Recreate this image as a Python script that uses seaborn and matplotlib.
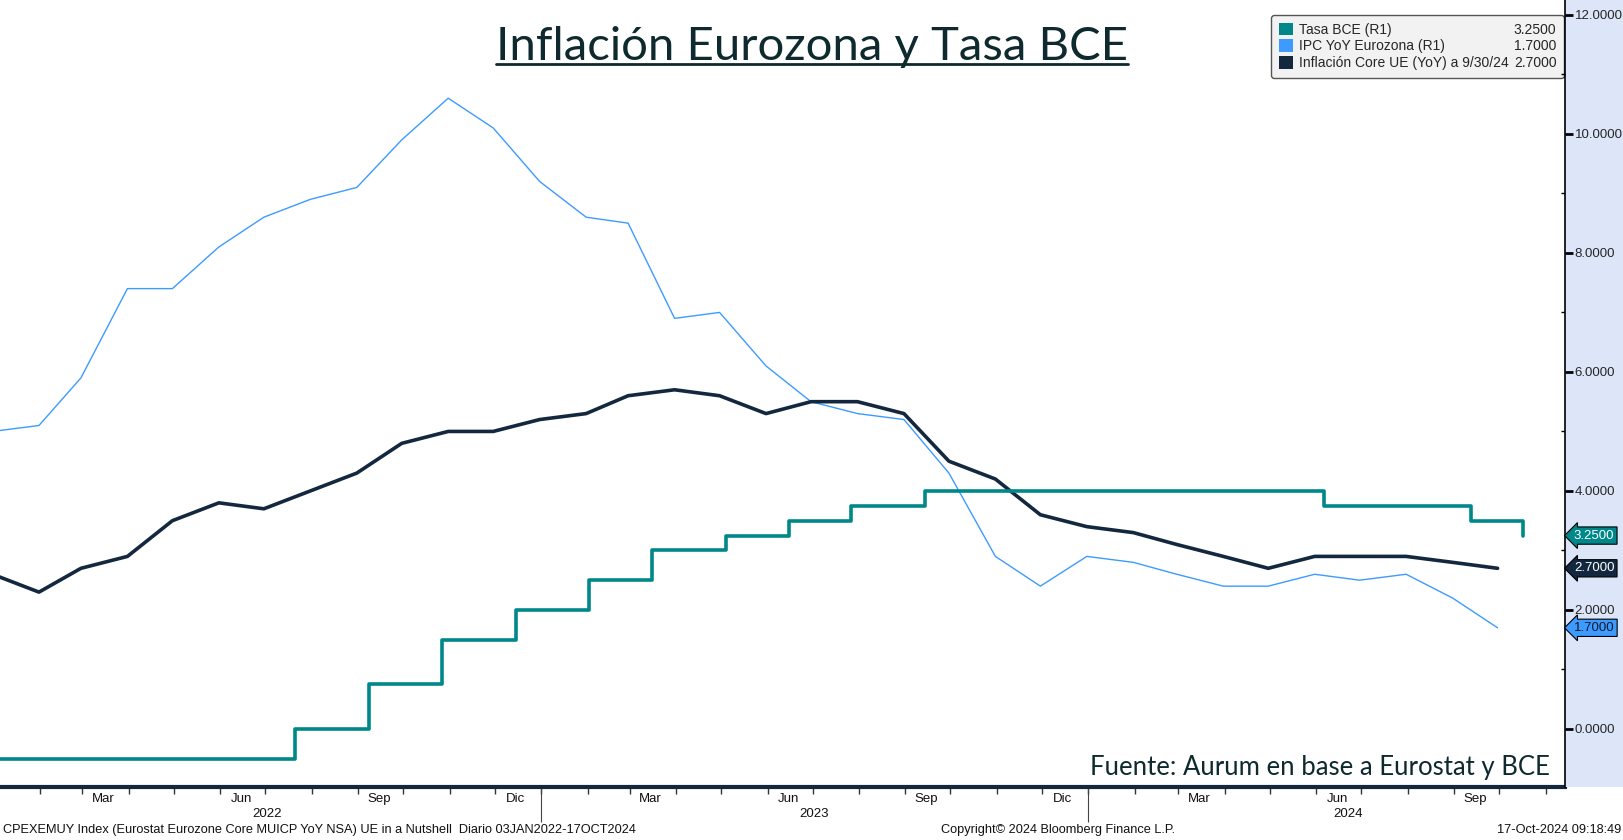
import matplotlib
matplotlib.use("Agg")
import matplotlib.dates as mdates
import matplotlib.pyplot as plt
import matplotlib.transforms as mtransforms
import pandas as pd
import seaborn as sns
from matplotlib.lines import Line2D
from matplotlib.patches import Patch
from matplotlib.ticker import FuncFormatter, NullFormatter

sns.set_style("white")
plt.rcParams['font.family'] = ['Liberation Sans', 'DejaVu Sans']

RATE_C = "#00878A"
IPC_C = "#3D9BFF"
CORE_C = "#13283F"
STRIP_C = "#DCE6F8"

# monthly prints, dated at month end (Dec-2021 .. Sep-2024)
months = pd.date_range("2021-12-31", "2024-09-30", freq="ME")
ipc_yoy = [5.0, 5.1, 5.9, 7.4, 7.4, 8.1, 8.6, 8.9, 9.1, 9.9, 10.6, 10.1, 9.2,
           8.6, 8.5, 6.9, 7.0, 6.1, 5.5, 5.3, 5.2, 4.3, 2.9, 2.4, 2.9,
           2.8, 2.6, 2.4, 2.4, 2.6, 2.5, 2.6, 2.2, 1.7]
core_yoy = [2.6, 2.3, 2.7, 2.9, 3.5, 3.8, 3.7, 4.0, 4.3, 4.8, 5.0, 5.0, 5.2,
            5.3, 5.6, 5.7, 5.6, 5.3, 5.5, 5.5, 5.3, 4.5, 4.2, 3.6, 3.4,
            3.3, 3.1, 2.9, 2.7, 2.9, 2.9, 2.9, 2.8, 2.7]

# ECB deposit rate decisions
rate_dates = pd.to_datetime([
    "2022-01-03", "2022-07-21", "2022-09-08", "2022-10-27", "2022-12-15",
    "2023-02-02", "2023-03-16", "2023-05-04", "2023-06-15", "2023-07-27",
    "2023-09-14", "2024-06-06", "2024-09-12", "2024-10-17"])
rate_vals = [-0.5, 0.0, 0.75, 1.5, 2.0, 2.5, 3.0, 3.25, 3.5, 3.75, 4.0, 3.75, 3.5, 3.25]

series_names = ["Tasa BCE (R1)", "IPC YoY Eurozona (R1)", "Inflación Core UE (YoY) a 9/30/24"]
series_last = [rate_vals[-1], ipc_yoy[-1], core_yoy[-1]]
series_colors = [RATE_C, IPC_C, CORE_C]

mes = {3: "Mar", 6: "Jun", 9: "Sep", 12: "Dic"}
year_bounds = pd.to_datetime(["2023-01-01", "2024-01-01"])
year_labels = ["2022", "2023", "2024"]
year_label_pos = pd.to_datetime(["2022-07-02", "2023-07-02", "2024-06-22"])

fig = plt.figure(figsize=(16.24, 8.4), dpi=100)
ax = fig.add_axes([0, 0.0631, 0.9637, 0.9369])

sns.lineplot(x=months, y=ipc_yoy, color=IPC_C, linewidth=1.0, ax=ax)
sns.lineplot(x=months, y=core_yoy, color=CORE_C, linewidth=2.6, ax=ax)
sns.lineplot(x=rate_dates, y=rate_vals, color=RATE_C, linewidth=2.6,
             drawstyle="steps-post", ax=ax)

ax.set_xlim(pd.Timestamp("2022-01-05"), pd.Timestamp("2024-11-14"))
ax.set_ylim(-0.975, 12.25)
ax.set_yticks([])
ax.set_xlabel("")
ax.set_ylabel("")
for s in ["left", "top", "right"]:
    ax.spines[s].set_visible(False)
ax.spines["bottom"].set_color(CORE_C)
ax.spines["bottom"].set_linewidth(3)

ax.xaxis.set_major_locator(mdates.MonthLocator())
ax.xaxis.set_major_formatter(NullFormatter())
ax.xaxis.set_minor_locator(mdates.MonthLocator(bymonth=[3, 6, 9, 12], bymonthday=15))
ax.xaxis.set_minor_formatter(FuncFormatter(lambda v, p: mes[mdates.num2date(v).month]))
ax.tick_params(axis="x", which="major", bottom=True, length=5, width=1, color="#333333")
ax.tick_params(axis="x", which="minor", bottom=True, length=0, pad=4, labelsize=9.5, labelcolor="#111111")

xt = ax.get_xaxis_transform()
ax.vlines(year_bounds, -0.0445, 0, transform=xt, clip_on=False, lw=0.8, color="#444444")
for d, lab in zip(year_label_pos, year_labels):
    ax.text(d, -0.0343, lab, transform=xt, ha="center", va="center", fontsize=9.5, color="#111111")

# legend with value column
handles = [Patch(fc=c, ec="none") for c in series_colors] + [Patch(alpha=0) for _ in series_colors]
labels = series_names + [f"{v:.4f}" for v in series_last]
leg = ax.legend(handles=handles, labels=labels, ncol=2, loc="upper right",
                bbox_to_anchor=(0.9994, 0.981), borderaxespad=0, handlelength=1.0,
                handleheight=1.0, handletextpad=0.4, columnspacing=-1.0, fontsize=10,
                frameon=True, fancybox=True, facecolor="#F2F2F2", edgecolor="#555555",
                framealpha=1, labelspacing=0.2, borderpad=0.55)

ax.text(0.9904, (787 - 768) / 787, "Fuente: Aurum en base a Eurostat y BCE",
        transform=ax.transAxes, ha="right", va="center", fontsize=18.5,
        family=["Lato", "DejaVu Sans"], color="#0E2A2F")

# right value strip
ax_r = fig.add_axes([0.9637, 0.0631, 0.0363, 0.9369], facecolor=STRIP_C)
ax_r.set_ylim(ax.get_ylim())
ax_r.set_xlim(0, 1)
ax_r.set_xticks([])
for s in ["top", "right", "bottom"]:
    ax_r.spines[s].set_visible(False)
ax_r.spines["left"].set_color("black")
ax_r.spines["left"].set_linewidth(1.2)
ax_r.yaxis.set_ticks_position("left")
ax_r.set_yticks(range(0, 13, 2))
ax_r.set_yticklabels([f"{v:.4f}" for v in range(0, 13, 2)], ha="left")
ax_r.set_yticks(range(1, 13, 2), minor=True)
ax_r.tick_params(axis="y", which="major", left=True, direction="in", length=6, width=2,
                 pad=-7, labelsize=9.5, color="black")
ax_r.tick_params(axis="y", which="minor", left=True, direction="out", length=3, width=1, color="black")

bt = mtransforms.blended_transform_factory(ax_r.transAxes, ax_r.transData)
badge_text = ["white", "#0E1A2A", "white"]
for v, c, tc in zip([rate_vals[-1], ipc_yoy[-1], core_yoy[-1]],
                    [RATE_C, IPC_C, CORE_C], badge_text):
    ax_r.text(0.15, v, f"{v:.4f}", transform=bt, ha="left", va="center", fontsize=9.5,
              color=tc, clip_on=False,
              bbox=dict(boxstyle="larrow,pad=0.2", fc=c, ec="black", lw=0.8))

# title with underline
title = fig.text(0.5, 1 - 60 / 840, "Inflación Eurozona y Tasa BCE", ha="center",
                 va="baseline", fontsize=34, family=["Lato", "DejaVu Sans"], color="#0E2A2F")
fig.canvas.draw()
bb = title.get_window_extent().transformed(fig.transFigure.inverted())
fig.add_artist(Line2D([bb.x0, bb.x1], [1 - 64 / 840] * 2, transform=fig.transFigure,
                      color="#0E2A2F", lw=2))

# footer
fig.text(3 / 1624, 1 - 830 / 840, "CPEXEMUY Index (Eurostat Eurozone Core MUICP YoY NSA) UE in a Nutshell  Diario 03JAN2022-17OCT2024",
         ha="left", va="center", fontsize=9.2, color="#111111")
fig.text(1058 / 1624, 1 - 830 / 840, "Copyright© 2024 Bloomberg Finance L.P.",
         ha="center", va="center", fontsize=9.2, color="#111111")
fig.text(1621 / 1624, 1 - 830 / 840, "17-Oct-2024 09:18:49",
         ha="right", va="center", fontsize=9.2, color="#111111")

fig.savefig("out.png", dpi=100)
